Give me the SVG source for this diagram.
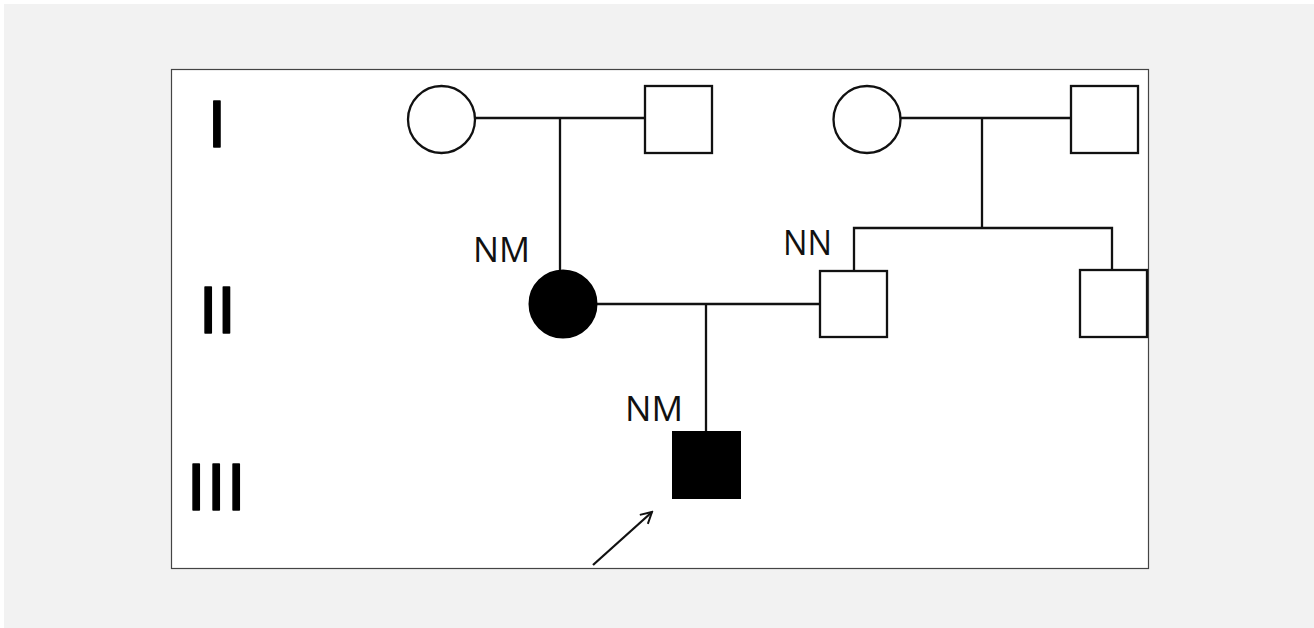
<svg xmlns="http://www.w3.org/2000/svg" width="1314" height="628" viewBox="0 0 1314 628">
<style>
.ln{stroke:#111;stroke-width:2.3;fill:none}
.open{fill:#fff;stroke:#111;stroke-width:2.3}
.fill{fill:#000;stroke:#000;stroke-width:2}
.lbl{font-family:"Open Sans","Liberation Sans",sans-serif;font-size:34px;fill:#111}
.gen{font-family:"Liberation Sans",Arial,sans-serif;font-size:66px;fill:#000;stroke:#000;stroke-width:1.6;stroke-linejoin:round}
</style>
<defs>
<marker id="arr" markerWidth="14" markerHeight="14" refX="12" refY="7" orient="auto" markerUnits="userSpaceOnUse">
<path d="M1,1 L12,7 L1,13" fill="none" stroke="#111" stroke-width="2"/>
</marker>
</defs>
<rect x="0" y="0" width="1314" height="628" fill="#fff"/>
<rect x="4" y="4" width="1310" height="624" fill="#f2f2f2"/>
<rect x="171.5" y="69.5" width="977" height="499" fill="#fff" stroke="#444" stroke-width="1.2"/>
<g id="generations">
<text class="gen" x="217" y="147" text-anchor="middle">I</text>
<text class="gen" x="199" y="333">II</text>
<text class="gen" x="187" y="510" letter-spacing="1.7">III</text>
</g>
<g id="connectors">
<line class="ln" x1="475" y1="118" x2="645" y2="118"/>
<line class="ln" x1="560" y1="118" x2="560" y2="271"/>
<line class="ln" x1="901" y1="118" x2="1071" y2="118"/>
<line class="ln" x1="982" y1="118" x2="982" y2="229"/>
<polyline class="ln" points="854,271 854,228 1112,228 1112,270"/>
<line class="ln" x1="597" y1="304" x2="820" y2="304"/>
<line class="ln" x1="706" y1="304" x2="706" y2="431"/>
<line class="ln" x1="593" y1="565" x2="652" y2="512" marker-end="url(#arr)"/>
</g>
<g id="I-1"><circle class="open" cx="441.5" cy="119.5" r="33.5"/></g>
<g id="I-2"><rect class="open" x="645" y="86" width="67" height="67"/></g>
<g id="I-3"><circle class="open" cx="867" cy="119.5" r="33.5"/></g>
<g id="I-4"><rect class="open" x="1071" y="86" width="67" height="67"/></g>
<g id="II-1"><circle class="fill" cx="563" cy="304" r="33.5"/><text class="lbl" x="473" y="262" textLength="57" lengthAdjust="spacingAndGlyphs">NM</text></g>
<g id="II-2"><rect class="open" x="820" y="271" width="67" height="66"/><text class="lbl" x="783" y="255" textLength="49" lengthAdjust="spacingAndGlyphs">NN</text></g>
<g id="II-3"><rect class="open" x="1080" y="270" width="67" height="67"/></g>
<g id="III-1"><rect class="fill" x="673" y="432" width="67" height="66"/><text class="lbl" x="625" y="421" textLength="58" lengthAdjust="spacingAndGlyphs">NM</text></g>
</svg>
